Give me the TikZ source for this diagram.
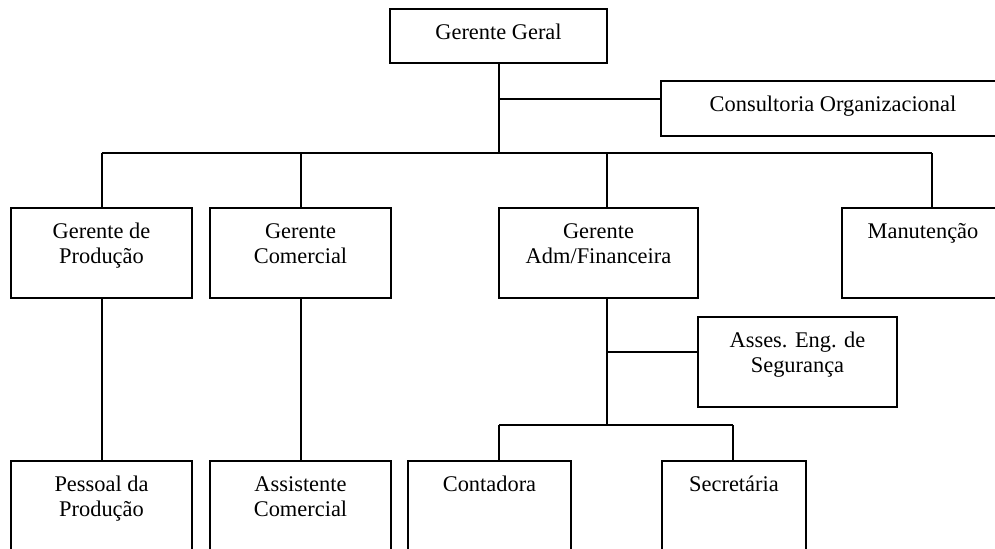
\documentclass[tikz,border=0pt]{standalone}
\usepackage{fontspec}
\setmainfont{Liberation Serif}
\newcommand\myfirst{\rule{0pt}{15.5pt}}
\begin{document}
\begin{tikzpicture}[x=0.5pt,y=-0.5pt,
  box/.style={draw, line width=1pt, inner sep=0pt},
  txt/.style={anchor=north, inner sep=0pt, align=center, font=\fontsize{11.2}{12.5}\selectfont},
  conn/.style={line width=1pt}]
\useasboundingbox (0,0) rectangle (995,548);
\clip (0,0) rectangle (995,548);
\fill[white] (0,0) rectangle (995,548);
% boxes
\node[box, minimum width=108.5pt, minimum height=27pt] (gg) at (498.5,36) {};
\node[box, minimum width=172pt, minimum height=27.5pt] (co) at (833,108.5) {};
\node[box, minimum width=90.5pt, minimum height=45pt] (gp) at (101.5,253) {};
\node[box, minimum width=90.5pt, minimum height=45pt] (gc) at (300.5,253) {};
\node[box, minimum width=99.5pt, minimum height=45pt] (ga) at (598.5,253) {};
\node[box, minimum width=81pt, minimum height=45pt] (ma) at (923,253) {};
\node[box, minimum width=99.5pt, minimum height=45pt] (as) at (797.5,362) {};
\node[box, minimum width=90.5pt, minimum height=45pt] (pp) at (101.5,506) {};
\node[box, minimum width=90.5pt, minimum height=45pt] (ac) at (300.5,506) {};
\node[box, minimum width=81.5pt, minimum height=45pt] (ct) at (489.5,506) {};
\node[box, minimum width=72pt, minimum height=45pt] (se) at (734,506) {};
% texts
\node[txt] (ggt) at (gg.north) {\myfirst Gerente Geral};
\node[txt] (cot) at (co.north) {\myfirst Consultoria Organizacional};
\node[txt] (gpt) at (gp.north) {\myfirst Gerente de\\Produção};
\node[txt] (gct) at (gc.north) {\myfirst Gerente\\Comercial};
\node[txt] (gat) at (ga.north) {\myfirst Gerente\\Adm/Financeira};
\node[txt] (mat) at (ma.north) {\myfirst Manutenção};
\node[txt] (ast) at (as.north) {\myfirst Asses. Eng. de\\Segurança};
\node[txt] (ppt) at (pp.north) {\myfirst Pessoal da\\Produção};
\node[txt] (act) at (ac.north) {\myfirst Assistente\\Comercial};
\node[txt] (ctt) at (ct.north) {\myfirst Contadora};
\node[txt] (set) at (se.north) {\myfirst Secretária};
% junctions
\coordinate (top) at (499,153);
\coordinate (jco) at (499,99);
\coordinate (bL) at (101.5,153);
\coordinate (bR) at (932,153);
\coordinate (j3) at (607,153);
\coordinate (j4) at (607,425);
\coordinate (jas) at (607,352);
\coordinate (cL) at (499,425);
\coordinate (cR) at (733,425);
% connectors
\draw[conn] (gg.south -| top) -- (top);
\draw[conn] (jco) -- (jco -| co.west);
\draw[conn] (bL) -- (bR);
\draw[conn] (bL) -- (gp.north);
\draw[conn] (gc.north |- bL) -- (gc.north);
\draw[conn] (j3) -- (j3 |- ga.north);
\draw[conn] (bR) -- (bR |- ma.north);
\draw[conn] (gp.south) -- (pp.north);
\draw[conn] (gc.south) -- (ac.north);
\draw[conn] (j4 |- ga.south) -- (j4);
\draw[conn] (jas) -- (jas -| as.west);
\draw[conn] (cL) -- (cR);
\draw[conn] (cL) -- (cL |- ct.north);
\draw[conn] (cR) -- (cR |- se.north);
\end{tikzpicture}
\end{document}
